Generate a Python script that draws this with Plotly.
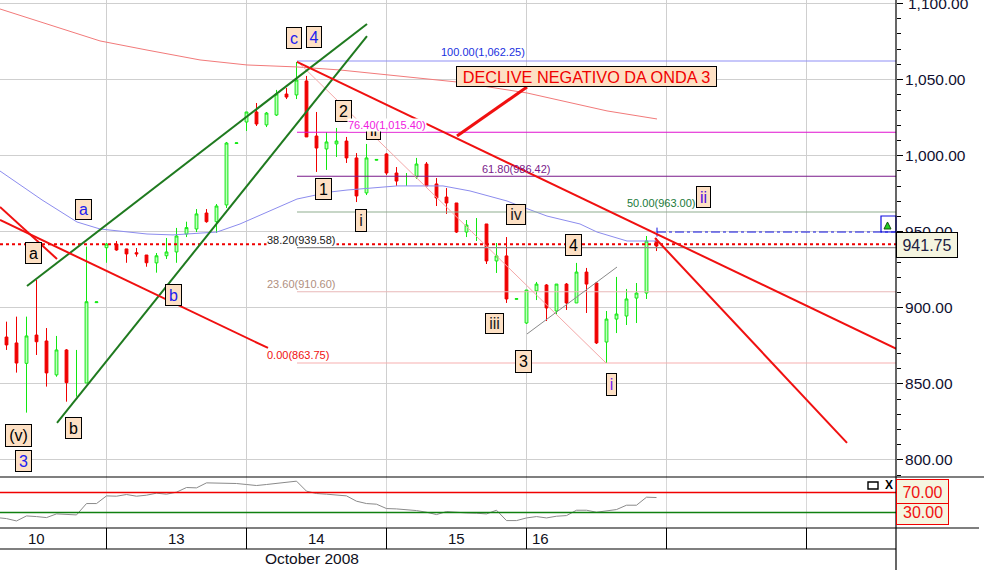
import plotly.graph_objects as go

bar_open = [880.8,876.9,863.5,882.1,878.2,855.9,872.3,None,850.6,903.4,939.5,941.9,938.7,936.2,934.7,929.5,934.2,936.7,948.5,951.8,962.3,956.6,967.6,1008.0,1022.1,1028.7,1020.2,1026.7,1040.5,1039.9,1049.1,1012.9,1004.4,1007.7,1009.6,998.5,975.5,997.0,1001.1,988.6,None,986.0,994.5,981.4,972.8,968.9,949.8,None,955.1,930.8,934.1,905.6,890.0,911.1,915.0,897.9,915.6,903.2,923.5,916.3,877.5,892.6,894.6,906.4,909.7,943.9]
bar_high = [890.9,894.2,894.2,918.3,886.7,881.5,872.9,None,940.2,904.0,942.6,943.9,938.7,939.3,934.7,936.0,945.9,952.5,956.6,964.9,964.9,968.2,1009.0,1008.6,1028.7,1034.6,1028.7,1043.2,1044.5,1061.6,1052.4,1028.7,1015.5,1018.2,1012.3,1001.7,1007.7,997.7,1001.7,992.5,None,998.5,995.8,985.3,978.7,968.9,957.7,None,955.1,942.6,946.5,906.2,911.7,917.0,915.6,915.6,916.3,929.5,926.2,917.0,897.9,920.3,912.4,916.3,947.2,945.9]
bar_low = [872.3,857.4,831.1,869.0,848.2,854.7,838.3,None,850.6,903.2,929.6,937.5,929.6,933.6,927.0,923.1,932.1,929.6,946.5,949.8,955.9,949.2,965.6,1007.8,1016.2,1019.5,1018.8,1026.1,1037.2,1037.2,1012.3,989.3,990.6,999.1,995.2,969.5,974.1,996.8,987.3,980.1,None,984.7,980.1,966.9,961.7,949.2,946.5,None,928.8,922.9,903.2,905.4,889.4,905.1,891.3,895.9,898.6,903.2,896.6,876.2,863.7,883.4,888.7,890.0,905.8,937.3]
bar_close = [875.6,863.7,881.5,877.7,857.2,872.3,850.8,None,904.0,903.9,941.9,938.0,935.4,935.4,929.6,934.2,936.7,947.2,952.7,961.7,956.6,966.9,1008.3,1008.4,1028.7,1020.8,1028.0,1040.5,1038.5,1049.7,1012.3,1005.0,1009.0,1009.6,998.5,973.5,998.5,997.5,988.6,983.3,None,994.5,980.1,972.2,968.9,949.8,954.4,None,930.8,934.1,905.8,906.0,911.7,915.6,899.9,915.6,903.2,923.5,915.6,876.9,892.6,895.9,905.8,909.7,943.9,940.6]
bar_index = list(range(len(bar_open)))

thin_index = [7, 7, None, 40, 40, None, 47, 47]
thin_price = [872.3, 841.6, None, 988.6, 980.1, None, 959.0, 943.9]

rsi_index = [-1] + bar_index
rsi_values = [20,18,13.3,23.3,22,20,27.3,26,25.3,48,48,63.3,62.7,66,62.7,64.7,68.7,66.7,70.7,80,79.3,89.3,89.3,88.7,88,86,84,86,88,91.3,92.7,72.7,68,66.7,65.3,63.3,52.7,48,46.7,38,37.3,36,34,30.7,26,32,30,29.3,28.7,27.3,34.7,14,14,19.3,22,19.3,22.7,24,34.7,34.7,30.7,33.3,36,44.7,44.7,60.7,60]

ma_fast_x = [-0.65,3.55,7.05,9.35,14.05,16.65,21.05,23.35,29.05,32.35,34.05,39.05,41.65,43.65,46.35,50.05,51.05,54.05,57.35,59.05,62.05,65.05]
ma_fast_y = [989.9,970.9,956.4,951.8,948.5,947.9,949.8,955.1,971.5,976.1,977.4,980.1,980.1,980.1,976.8,970.2,967.6,960.3,955.1,949.8,943.9,943.9]
ma_slow_x = [-0.65,7.35,9.35,14.05,19.35,24.05,29.05,33.35,45.05,52.05,60.05,65.05]
ma_slow_y = [1096.4,1079.3,1075.4,1069.4,1062.9,1059.6,1058.3,1056.3,1048.4,1041.2,1029.4,1024.1]

fib_levels = [1062.25, 1015.40, 986.42, 963.00, 939.58, 910.60, 863.75]
fib_ratios = ["100.00(1,062.25)", "76.40(1,015.40)", "61.80(986.42)", "50.00(963.00)", "38.20(939.58)", "23.60(910.60)", "0.00(863.75)"]
fib_colors = ["#8f8ff5", "#e010d0", "#7a1a8a", "#8fae8f", "#909090", "#e8b8b8", "#f8b0b0"]

last_price = 941.75
rsi_bands = [70, 30]
date_ticks = [10, 24, 38, 52, 66, 80]
date_labels = ["10", "13", "14", "15", "16"]
date_label_pos = [2.95, 16.95, 30.95, 44.95, 53.35]

green_a = ([2.05, 36.05], [914.3, 1086.5])
green_b = ([5.05, 36.05], [824.3, 1078.6])
red_a = ([-0.65, 5.05], [966.3, 932.1])
red_b = ([-0.65, 26.15], [957.7, 873.6])
red_c = ([29.05, 89.05], [1061.6, 872.9])
red_d = ([64.85, 84.05], [945.9, 811.2])
red_arrow = ([45.05, 52.05], [1012.9, 1045.1])
fib_trend = ([29.05, 59.95], [1062.25, 863.75])
grey_trend = ([52.05, 61.05], [882.8, 926.8])
alert_x = [65.05, 65.05, None, 65.05, 89.0]
alert_y = [952.7, 946.8, None, 949.8, 949.8]

W, H, PW = 984, 570, 896
FONT = "Liberation Sans"

fig = go.Figure()
fig.add_trace(go.Candlestick(
    x=bar_index, open=bar_open, high=bar_high, low=bar_low, close=bar_close,
    increasing=dict(line=dict(color="#10e810", width=1), fillcolor="#c0ffc0"),
    decreasing=dict(line=dict(color="#f00000", width=1), fillcolor="#f00000"),
    whiskerwidth=0, hoverinfo="skip", showlegend=False))
fig.add_trace(go.Scatter(x=thin_index, y=thin_price, mode="lines", connectgaps=False,
                         line=dict(color="#10e810", width=1), hoverinfo="skip"))


def ln(xy, color, width, dash="solid"):
    fig.add_trace(go.Scatter(x=xy[0], y=xy[1], mode="lines", hoverinfo="skip",
                             line=dict(color=color, width=width, dash=dash)))


ln((ma_fast_x, ma_fast_y), "#8c8cee", 1)
ln((ma_slow_x, ma_slow_y), "#f27a7a", 1)
for lev, col in zip(fib_levels, fib_colors):
    ln(([29.05, 89.0], [lev, lev]), col, 1.1)
ln(([-0.65, 89.0], [last_price, last_price]), "#f00000", 2, "dot")
ln((alert_x, alert_y), "#1010e0", 1, "dashdot")
ln(fib_trend, "#f4a8a8", 1)
ln(grey_trend, "#8a8a8a", 1)
ln(green_a, "#1f7a1f", 2)
ln(green_b, "#1f7a1f", 2)
ln(red_a, "#f01010", 2)
ln(red_b, "#f01010", 2)
ln(red_c, "#f01010", 2)
ln(red_d, "#f01010", 2)
ln(red_arrow, "#f01010", 3)

fig.add_trace(go.Scatter(x=rsi_index, y=rsi_values, xaxis="x2", yaxis="y2", mode="lines",
                         line=dict(color="#8a8a8a", width=1), hoverinfo="skip"))
for band, col in zip(rsi_bands, ["#f00000", "#108010"]):
    fig.add_trace(go.Scatter(x=[-1, 89], y=[band, band], xaxis="x2", yaxis="y2", mode="lines",
                             line=dict(color=col, width=1.4), hoverinfo="skip"))
# alert icon
fig.add_trace(go.Scatter(x=[88.1], y=[956.4], mode="markers", hoverinfo="skip",
                         marker=dict(symbol="arrow-up", size=7, color="#20d020",
                                     line=dict(color="#105010", width=1))))

shapes, annos = [], []


def rect(x0, y0, x1, y1, line="black", fill=None, w=1):
    shapes.append(dict(type="rect", xref="paper", yref="paper", x0=x0 / PW, x1=x1 / PW,
                       y0=1 - y0 / H, y1=1 - y1 / H, line=dict(color=line, width=w),
                       fillcolor=fill, layer="above"))


def hline(x0, x1, y, color="black", w=1):
    shapes.append(dict(type="line", xref="paper", yref="paper", x0=x0 / PW, x1=x1 / PW,
                       y0=1 - y / H, y1=1 - y / H, line=dict(color=color, width=w), layer="above"))


def txt(s, x, y, color="black", size=12, anchor="center", bg=None):
    annos.append(dict(text=s, xref="paper", yref="paper", x=x / PW, y=1 - y / H, showarrow=False,
                      xanchor=anchor, yanchor="middle", borderpad=0,
                      font=dict(family=FONT, size=size, color=color), bgcolor=bg))


def box(s, x, y, w, h, color="black", size=16, fill="#fde0c4", border="black"):
    annos.append(dict(text=s, xref="paper", yref="paper", x=x / PW, y=1 - y / H, showarrow=False,
                      xanchor="center", yanchor="middle", width=w, height=h, align="center",
                      valign="middle", borderpad=0, bordercolor=border, borderwidth=1, bgcolor=fill,
                      font=dict(family=FONT, size=size, color=color)))


BLUE = "#2020f0"
box("c", 293.5, 38.5, 14, 20, BLUE)
box("4", 314, 37.5, 14, 20, BLUE)
box("2", 343.5, 111, 15, 20)
box("ii", 373.5, 130, 13, 18)
box("1", 323.5, 189, 15, 20)
box("i", 361, 220, 10, 21, "#222222")
box("iv", 515.5, 214.5, 18, 19, "#222222")
box("4", 573.5, 244.5, 15, 20)
box("3", 523.5, 361, 15, 21)
box("iii", 495, 323, 17, 19, "#222222")
box("i", 611, 384, 9, 21, "#7020f0")
box("ii", 703.5, 196.5, 13, 20, "#5010e0")
box("a", 83, 209.5, 15, 19, BLUE)
box("a", 33.5, 253, 15, 20)
box("b", 73.5, 428, 15, 20)
box("b", 173.5, 295, 15, 20, BLUE)
box("(v)", 18.5, 435.5, 25, 21)
box("3", 23.5, 460.5, 15, 20, BLUE)
box("DECLIVE NEGATIVO DA ONDA 3", 586.5, 77, 259, 19, "#f00000", 16.3)

FIB = 11
txt(fib_ratios[0], 440, 52, "#2030e0", FIB, "left")
txt(fib_ratios[1], 347, 125, "#f020e0", FIB, "left", "white")
txt(fib_ratios[2], 481, 169, "#7a1a8a", FIB, "left")
txt(fib_ratios[3], 626, 203, "#1a7a3a", FIB, "left")
txt(fib_ratios[4], 266, 240, "#202020", FIB, "left", "white")
txt(fib_ratios[5], 266, 284, "#b09080", FIB, "left")
txt(fib_ratios[6], 266, 355, "#f01010", FIB, "left")

txt("1,100.00", 907, 3.5, "#101030", 15.5, "left")
box("941.75", 927, 245, 60, 24, "#202040", 16, "#f5f5e0")
box("70.00", 922.5, 492, 51, 24, "#f01010", 16, "#f5f5e0", "#f00000")
box("", 922.5, 514, 51, 20, "#f01010", 16, "#f5f5e0", "#f00000")
txt("30.00", 922.5, 512, "#f01010", 16)

rect(868, 482, 878, 489, "black", None, 1.4)
txt("<b>X</b>", 889, 485, "black", 12)

# icon frame
rect(881, 216, 896, 232, "#1010e0", None, 1.2)

hline(0, W, 477, "black", 1.2)
hline(0, W - 5, 528, "black", 1.2)
hline(0, PW, 549, "black", 1.2)
shapes.append(dict(type="line", xref="paper", yref="paper", x0=1, x1=1, y0=0, y1=1,
                   line=dict(color="black", width=1.2), layer="above"))
for t in date_ticks:
    shapes.append(dict(type="line", xref="x", yref="paper", x0=t, x1=t, y0=1 - 528 / H, y1=1 - 549 / H,
                       line=dict(color="black", width=1), layer="above"))
for s, p in zip(date_labels, date_label_pos):
    annos.append(dict(text=s, xref="x", yref="paper", x=p, y=1 - 538 / H, showarrow=False,
                      xanchor="center", yanchor="middle",
                      font=dict(family=FONT, size=15, color="#101020")))
txt("October 2008", 312, 558, "#101020", 15.5)

fig.update_layout(
    width=W, height=H, margin=dict(l=0, r=W - PW, t=0, b=0), paper_bgcolor="white", plot_bgcolor="white",
    showlegend=False, hovermode=False, boxgap=0.6, font=dict(family=FONT),
    xaxis=dict(range=[-0.65, 88.95], domain=[0, 1], anchor="y", tickvals=date_ticks, showticklabels=False,
               ticks="", showgrid=True, gridcolor="#cfcfcf", gridwidth=1, zeroline=False,
               rangeslider=dict(visible=False), showline=False),
    yaxis=dict(range=[788.8, 1102.3], domain=[1 - 477 / H, 1], anchor="x", side="right", tick0=800, dtick=50,
               tickformat=",.2f", tickfont=dict(family=FONT, size=15.5, color="#101030"),
               ticks="outside", ticklen=6, tickcolor="black", tickwidth=1, ticklabelstandoff=-1,
               showgrid=True, gridcolor="#cfcfcf", gridwidth=1, zeroline=False, showline=False,
               minor=dict(dtick=10, tick0=800, ticks="outside", ticklen=4, tickcolor="black", tickwidth=1,
                          showgrid=False)),
    xaxis2=dict(range=[-0.65, 88.95], domain=[0, 1], anchor="y2", tickvals=date_ticks, showticklabels=False,
                ticks="", showgrid=True, gridcolor="#d8d8d8", gridwidth=1, zeroline=False),
    yaxis2=dict(range=[-0.8, 101], domain=[1 - 528 / H, 1 - 477 / H], anchor="x2", side="right",
                showticklabels=False, ticks="", showgrid=False, zeroline=False),
    shapes=shapes, annotations=annos,
)

fig.write_html("out.html", config={"displayModeBar": False},
               post_script="document.body.style.margin='0';document.body.style.overflow='hidden';")
